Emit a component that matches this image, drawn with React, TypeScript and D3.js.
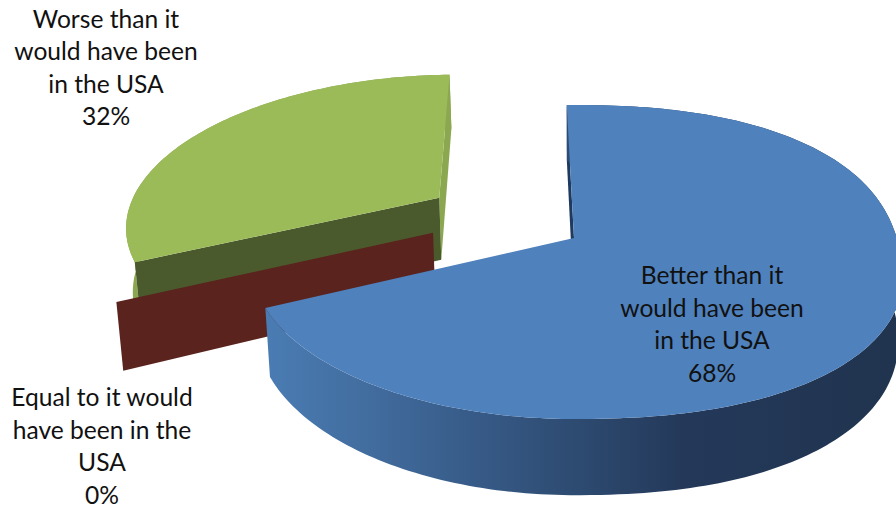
import React from "react";
import * as d3 from "d3";

const categories = ["Better than it would have been in the USA", "Equal to it would have been in the USA", "Worse than it would have been in the USA"];
const shares = [68.4, 0, 31.6];
const percentLabels = ["68%", "0%", "32%"];
const labelLines = [
  ["Better than it", "would have been", "in the USA"],
  ["Equal to it would", "have been in the", "USA"],
  ["Worse than it", "would have been", "in the USA"],
];

const W = 896, H = 505;
const CX = 574, CY = 238, SX = 319, SY = 153.3, PERSP = 0.153, DEPTH = 64.5, BOTTOM_X = 0.985;
const START = (-1.5 * Math.PI) / 180;
// slice explosion in disc units
const offsets = [[0, 0], [-0.444, 0.034], [-0.44, 0.273]];
const labelPos = [{ x: 712, y: 284 }, { x: 102, y: 406 }, { x: 106, y: 27.5 }];
const LINE_H = 32.6;

type P = [number, number];
function project(u: number, v: number, low: boolean): P {
  const w = 1 + PERSP * v;
  const x = (SX * u) / w;
  const y = CY - (SY * v) / w + (low ? DEPTH / w : 0);
  return [CX + (low ? x * BOTTOM_X : x), y];
}
const path = d3.line<P>().x(d => d[0]).y(d => d[1]);

// squareness of the large slice's right-hand rim, as the reference's 3D renderer draws it
const unit = (t: number, squared: boolean): P => {
  const s = Math.sin(t), c = Math.cos(t);
  if (squared && s > 0) {
    const p = 0.88;
    return [1.012 * Math.pow(s, p), Math.sign(c) * Math.pow(Math.abs(c), p)];
  }
  return [s, c];
};

function rim(a0: number, a1: number, off: number[], low: boolean, squared = false): P[] {
  const n = Math.max(2, Math.ceil(Math.abs(a1 - a0) / 0.02));
  return d3.range(n + 1).map(i => {
    const t = a0 + ((a1 - a0) * i) / n;
    const [u, v] = unit(t, squared);
    return project(off[0] + u, off[1] + v, low);
  });
}
const closed = (pts: P[]) => path(pts) + "Z";

export default function App() {
  const arcs = d3.pie<number>().sort(null).startAngle(START).endAngle(START + 2 * Math.PI)(shares);
  const [blue, red, green] = arcs;
  const apex = (off: number[], low: boolean) => project(off[0], off[1], low);
  const edge = (a: number, off: number[], low: boolean) => project(off[0] + Math.sin(a), off[1] + Math.cos(a), low);

  const b = offsets[0];
  const blueTop = closed([apex(b, false), ...rim(blue.startAngle, blue.endAngle, b, false, true)]);
  const blueRimWall = closed([...rim(blue.startAngle, blue.endAngle, b, false, true), ...rim(blue.startAngle, blue.endAngle, b, true, true).reverse()]);
  const blueCut = closed([apex(b, false), edge(blue.startAngle, b, false), edge(blue.startAngle, b, true), apex(b, true)]);

  const g = offsets[2];
  const greenTop = closed([apex(g, false), ...rim(green.startAngle, green.endAngle, g, false)]);
  const greenRimWall = closed([...rim(green.startAngle, green.endAngle, g, false), ...rim(green.startAngle, green.endAngle, g, true).reverse()]);
  const greenCutA = closed([apex(g, false), edge(green.startAngle, g, false), edge(green.startAngle, g, true), apex(g, true)]);
  const greenCutB = closed([apex(g, false), edge(green.endAngle, g, false), edge(green.endAngle, g, true), apex(g, true)]);

  const r = offsets[1];
  const redWall = closed([apex(r, false), edge(red.startAngle, r, false), edge(red.startAngle, r, true), apex(r, true)]);

  return (
    <svg width={W} height={H} viewBox={`0 0 ${W} ${H}`} style={{ position: "absolute", left: 0, top: 0, display: "block", background: "#fff" }}>
      <defs>
        <linearGradient id="side" gradientUnits="userSpaceOnUse" x1={265} y1={0} x2={896} y2={0}>
          <stop offset="0" stopColor="#4a7cb3" />
          <stop offset="0.16" stopColor="#426d9f" />
          <stop offset="0.33" stopColor="#375b88" />
          <stop offset="0.5" stopColor="#2d4a70" />
          <stop offset="0.66" stopColor="#24395a" />
          <stop offset="1" stopColor="#20344f" />
        </linearGradient>
      </defs>
      <path d={greenRimWall} fill="#8aa750" />
      <path d={greenCutB} fill="#8ba850" />
      <path d={greenCutA} fill="#4b5a2c" />
      <path d={greenTop} fill="#9bbb59" />
      <path d={redWall} fill="#5a231e" />
      <path d={blueCut} fill="#1f3a5f" />
      <path d={blueRimWall} fill="url(#side)" />
      <path d={blueTop} fill="#4f81bd" />
      {categories.map((c, i) => (
        <text key={c} textAnchor="middle" fontFamily="Lato, 'Open Sans', sans-serif" fontSize={24.6} fill="#111">
          {[...labelLines[i], percentLabels[i]].map((t, j) => (
            <tspan key={j} x={labelPos[i].x} y={labelPos[i].y + j * LINE_H}>{t}</tspan>
          ))}
        </text>
      ))}
    </svg>
  );
}
